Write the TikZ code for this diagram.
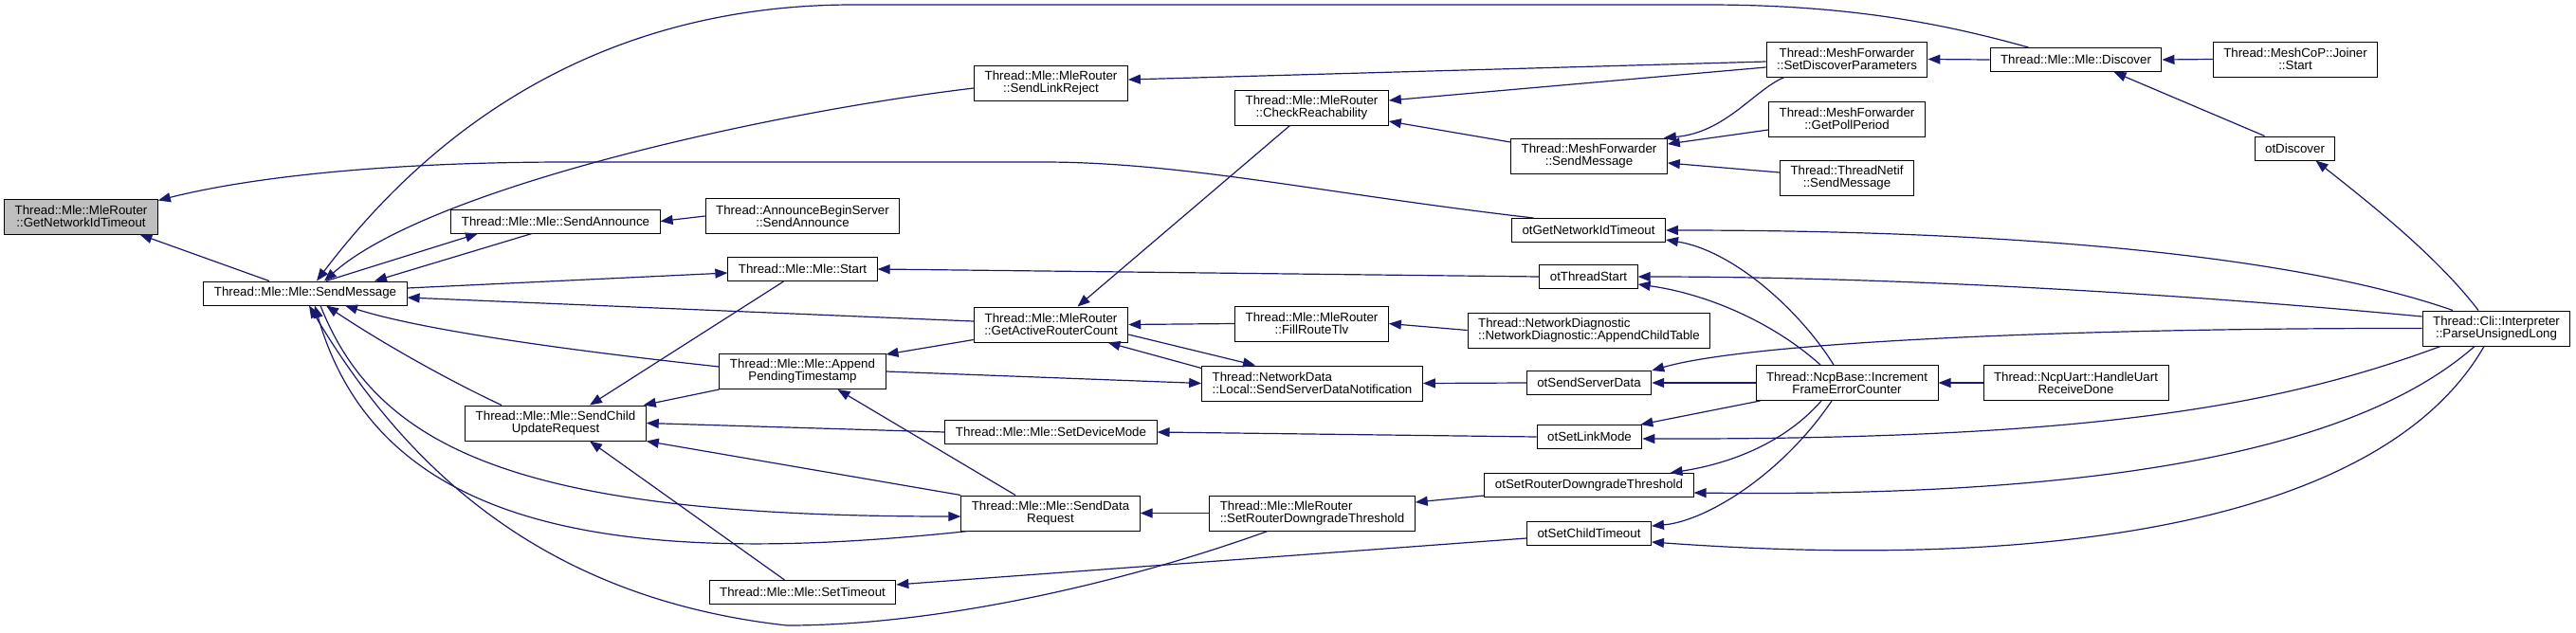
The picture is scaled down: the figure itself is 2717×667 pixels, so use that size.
\documentclass[tikz,border=0pt]{standalone}
\usepackage{fontspec}
\setmainfont{Liberation Sans}
\usetikzlibrary{arrows.meta}
\definecolor{callblue}{HTML}{191970}
\tikzset{>=Stealth, fn/.style={draw, line width=1pt, fill=white, inner xsep=11pt, inner ysep=1pt, minimum height=25pt, align=center, font=\fontsize{13.3}{13}\selectfont},
  fn2/.style={fn, minimum height=37pt}, root/.style={fn2, fill=black!25},
  call/.style={draw=callblue, line width=1.2pt, -{Triangle[length=13pt, width=10pt]}}}

\begin{document}
\begin{tikzpicture}[x=1pt, y=-1pt]
  \useasboundingbox (0,0) rectangle (2717,667);
  % functions, column by column
  \node[root] (GNT) at (85.5,228.5) {Thread::Mle::MleRouter\\::GetNetworkIdTimeout};
  \node[fn] (SM) at (322,309.5) {Thread::Mle::Mle::SendMessage};
  \node[fn] (SA) at (586,233.5) {Thread::Mle::Mle::SendAnnounce};
  \node[fn2] (SCUR) at (586,446.5) {Thread::Mle::Mle::SendChild\\UpdateRequest};
  \node[fn2] (ABS) at (846.5,228) {Thread::AnnounceBeginServer\\::SendAnnounce};
  \node[fn] (Start) at (846.5,284) {Thread::Mle::Mle::Start};
  \node[fn2] (APT) at (846.5,392) {Thread::Mle::Mle::Append\\PendingTimestamp};
  \node[fn] (STO) at (846.5,625) {Thread::Mle::Mle::SetTimeout};
  \node[fn2] (SLR) at (1108.5,88) {Thread::Mle::MleRouter\\::SendLinkReject};
  \node[fn2] (GARC) at (1108.5,342.5) {Thread::Mle::MleRouter\\::GetActiveRouterCount};
  \node[fn] (SDM) at (1108.5,456) {Thread::Mle::Mle::SetDeviceMode};
  \node[fn2] (SDR) at (1108,541.5) {Thread::Mle::Mle::SendData\\Request};
  \node[fn2] (CR) at (1383.5,113.5) {Thread::Mle::MleRouter\\::CheckReachability};
  \node[fn2] (FRT) at (1383.5,341.5) {Thread::Mle::MleRouter\\::FillRouteTlv};
  \node[fn2, align=left] (SSDN) at (1384,404.5) {Thread::NetworkData\\::Local::SendServerDataNotification};
  \node[fn2, align=left] (MRSRDT) at (1384,541.5) {Thread::Mle::MleRouter\\::SetRouterDowngradeThreshold};
  \node[fn2] (MFSM) at (1676,164.5) {Thread::MeshForwarder\\::SendMessage};
  \node[fn] (oGNT) at (1675.5,243) {otGetNetworkIdTimeout};
  \node[fn] (oTS) at (1675.5,292) {otThreadStart};
  \node[fn2, align=left] (NDACT) at (1676,348.5) {Thread::NetworkDiagnostic\\::NetworkDiagnostic::AppendChildTable};
  \node[fn] (oSSD) at (1676,404) {otSendServerData};
  \node[fn] (oSLM) at (1676.5,461) {otSetLinkMode};
  \node[fn] (oSRDT) at (1676,512) {otSetRouterDowngradeThreshold};
  \node[fn] (oSCT) at (1676,563) {otSetChildTimeout};
  \node[fn2] (SDP) at (1948,62.5) {Thread::MeshForwarder\\::SetDiscoverParameters};
  \node[fn2] (GPP) at (1948,125.5) {Thread::MeshForwarder\\::GetPollPeriod};
  \node[fn2] (TNSM) at (1948,188) {Thread::ThreadNetif\\::SendMessage};
  \node[fn2] (NcpB) at (1948,404) {Thread::NcpBase::Increment\\FrameErrorCounter};
  \node[fn] (Disc) at (2189.5,63) {Thread::Mle::Mle::Discover};
  \node[fn2] (NcpU) at (2189.5,404) {Thread::NcpUart::HandleUart\\ReceiveDone};
  \node[fn2] (Join) at (2421,62.5) {Thread::MeshCoP::Joiner\\::Start};
  \node[fn] (oDisc) at (2420.5,156.5) {otDiscover};
  \node[fn2] (Parse) at (2633,346.5) {Thread::Cli::Interpreter\\::ParseUnsignedLong};
  % calls, arrow at the callee
  \foreach \a/\b in {ABS.west/SA.east, oTS.west/Start.east, FRT.west/GARC.east, NDACT.west/FRT.east, oSSD.west/SSDN.east, oSLM.west/SDM.east, MRSRDT.west/SDR.east, Join.west/Disc.east, Disc.west/SDP.east, NcpU.west/NcpB.east, NcpB.west/oSSD.east, SDM.west/SCUR.east, APT.east/SSDN.west}
    \draw[call] (\a) -- (\b);
  \draw[call] ([xshift=-38pt]SM.north) -- ([xshift=62pt]GNT.south);
  \draw[call] ([xshift=-58pt]oGNT.north) .. controls (1400,205) and (1250,171) .. (1100,171) -- (600,171) .. controls (400,171) and (260,188) .. ([yshift=-2pt]GNT.north east);
  % into SendMessage
  \draw[call] ([xshift=-25pt]SA.south) -- ([xshift=73pt]SM.north);
  \draw[call] ([yshift=3.5pt]GARC.west) -- ([yshift=-4.5pt]SM.east);
  \draw[call] ([yshift=5pt]APT.west) .. controls (620,372) and (450,350) .. ([xshift=42pt]SM.south);
  \draw[call] ([xshift=-57pt]SCUR.north) .. controls (470,400) and (400,360) .. ([xshift=22pt]SM.south);
  \draw[call] ([xshift=-87pt]SDR.south) .. controls (650,600) and (400,560) .. ([xshift=10pt]SM.south);
  \draw[call] ([xshift=-47pt]MRSRDT.south) .. controls (1200,610) and (1000,660) .. (830,660) .. controls (560,630) and (420,480) .. ([xshift=4pt]SM.south);
  \draw[call] ([yshift=-5pt]SLR.west) .. controls (800,120) and (450,200) .. ([xshift=20pt]SM.north);
  \draw[call] ([xshift=-50pt]Disc.north) .. controls (2050,25) and (1950,5) .. (1800,5) -- (900,5) .. controls (600,5) and (430,170) .. ([xshift=12pt]SM.north);
  % out of SendMessage
  \draw[call] ([xshift=22pt]SM.north) -- ([xshift=-82pt]SA.south);
  \draw[call] ([yshift=5.5pt]SM.east) -- ([yshift=-4pt]Start.west);
  \draw[call] ([xshift=16pt]SM.south) .. controls (400,480) and (560,545) .. ([yshift=-3.5pt]SDR.west);
  % middle columns
  \draw[call] (APT.south west) -- ([xshift=-3pt]SCUR.north east);
  \draw[call] ([xshift=-20pt]Start.south) -- ([xshift=36pt]SCUR.north);
  \draw[call] (SDR.north west) -- (SCUR.south east);
  \draw[call] ([xshift=-19pt]STO.north) -- ([xshift=36pt]SCUR.south);
  \draw[call] ([yshift=-16pt]GARC.west) -- ([yshift=18pt]APT.east);
  \draw[call] ([xshift=-37pt]SDR.north) -- ([xshift=37pt]APT.south);
  \draw[call] ([yshift=-5pt]oSCT.west) -- ([yshift=8pt]STO.east);
  \draw[call] ([yshift=-2.5pt]SDP.west) -- ([yshift=4pt]SLR.east);
  \draw[call] ([yshift=-8.5pt]SDP.west) -- ([yshift=7.5pt]CR.east);
  \draw[call] ([yshift=14.5pt]MFSM.west) -- ([yshift=-14.5pt]CR.east);
  \draw[call] ([xshift=-66pt]SDP.south) .. controls (1850,95) and (1820,140) .. ([xshift=-4pt]MFSM.north east);
  \draw[call] ([yshift=-11.5pt]GPP.west) -- ([yshift=12.5pt]MFSM.east);
  \draw[call] ([yshift=6pt]TNSM.west) -- ([yshift=-7.5pt]MFSM.east);
  \draw[call] ([xshift=-23pt]CR.south) -- ([xshift=28pt]GARC.north);
  \draw[call] ([yshift=-10.5pt]GARC.east) -- ([xshift=-60pt]SSDN.north);
  \draw[call] ([yshift=-3pt]SSDN.north west) -- ([xshift=60pt]GARC.south);
  \draw[call] ([yshift=-11pt]oSRDT.west) -- ([yshift=11.5pt]MRSRDT.east);
  % right side
  \draw[call] ([xshift=-19pt]Parse.north) .. controls (2570,270) and (2500,215) .. ([xshift=22pt]oDisc.south);
  \draw[call] ([xshift=-32pt]oDisc.north) -- ([xshift=40pt]Disc.south);
  \draw[call] ([xshift=-46pt]Parse.north) .. controls (2480,290) and (2250,243) .. (oGNT.east);
  \draw[call] ([yshift=12.5pt]Parse.west) .. controls (2300,310) and (2000,292) .. (oTS.east);
  \draw[call] (Parse.west) .. controls (2200,346) and (1850,360) .. (oSSD.north east);
  \draw[call] ([xshift=-59pt]Parse.south) .. controls (2400,430) and (2200,464) .. ([yshift=-2pt]oSLM.east);
  \draw[call] ([xshift=-23pt]Parse.south) .. controls (2480,480) and (2200,525) .. ([yshift=-8pt]oSRDT.east);
  \draw[call] ([xshift=-13pt]Parse.south) .. controls (2520,540) and (2200,605) .. ([yshift=-9pt]oSCT.east);
  \draw[call] ([xshift=-14pt]NcpB.north) .. controls (1900,330) and (1830,265) .. ([yshift=-10pt]oGNT.east);
  \draw[call] ([xshift=-28pt]NcpB.north) .. controls (1870,340) and (1800,310) .. ([yshift=-8pt]oTS.east);
  \draw[call] ([xshift=5pt]NcpB.south west) -- ([xshift=-2pt]oSLM.north east);
  \draw[call] ([xshift=-27pt]NcpB.south) .. controls (1880,470) and (1820,490) .. ([xshift=-25pt]oSRDT.north east);
  \draw[call] ([xshift=-16pt]NcpB.south) .. controls (1880,500) and (1800,550) .. ([yshift=8pt]oSCT.east);
\end{tikzpicture}
\end{document}
